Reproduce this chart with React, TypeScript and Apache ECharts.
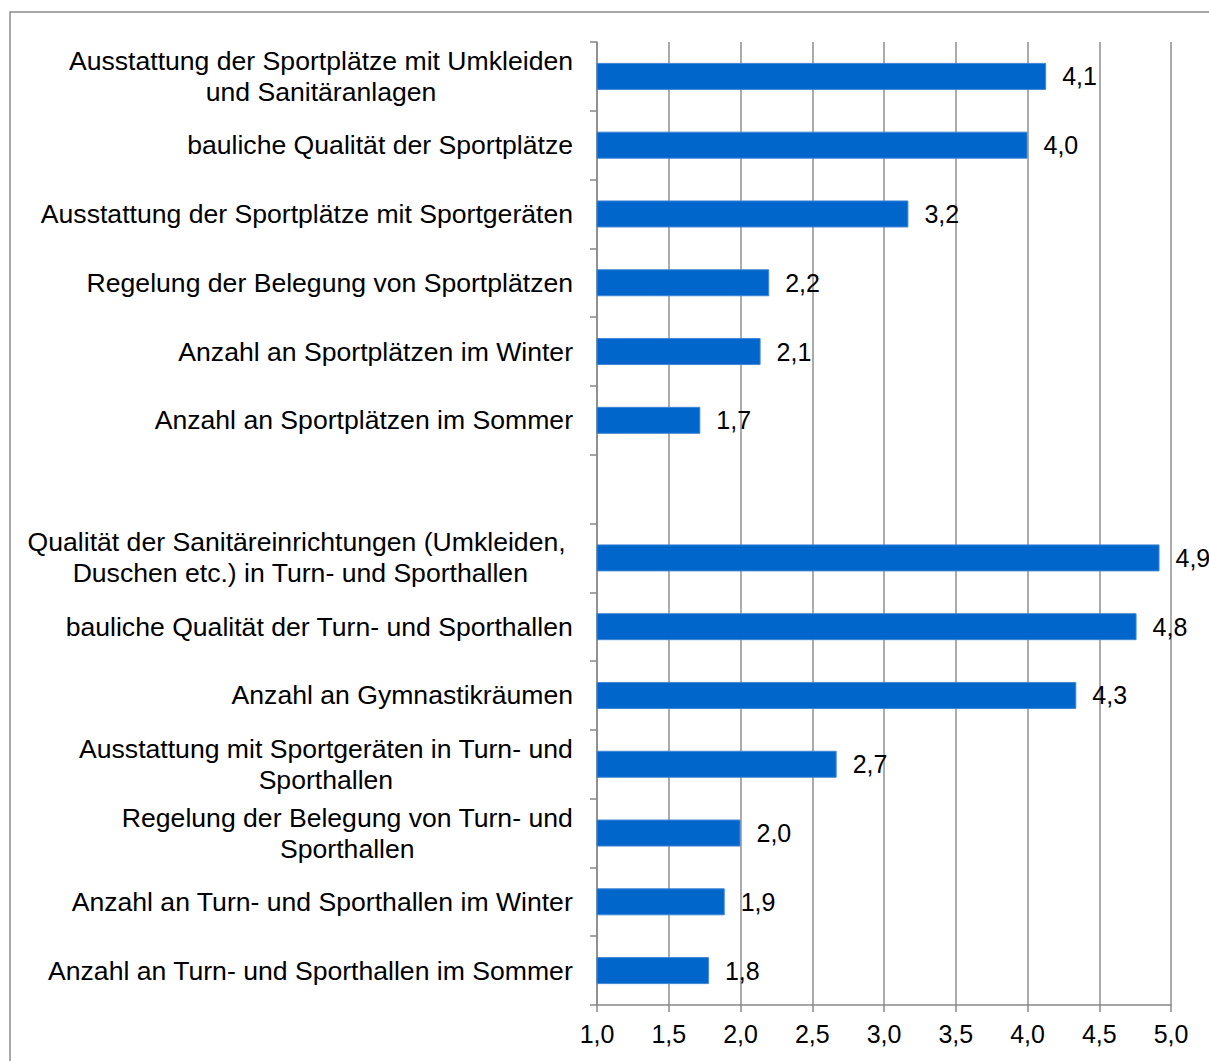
import React, { useEffect, useRef } from "react";
import * as echarts from "echarts";

const categories: string[] = [
  "Ausstattung der Sportplätze mit Umkleiden\nund Sanitäranlagen",
  "bauliche Qualität der Sportplätze",
  "Ausstattung der Sportplätze mit Sportgeräten",
  "Regelung der Belegung von Sportplätzen",
  "Anzahl an Sportplätzen im Winter",
  "Anzahl an Sportplätzen im Sommer",
  "",
  "Qualität der Sanitäreinrichtungen (Umkleiden, \nDuschen etc.) in Turn- und Sporthallen",
  "bauliche Qualität der Turn- und Sporthallen",
  "Anzahl an Gymnastikräumen",
  "Ausstattung mit Sportgeräten in Turn- und\nSporthallen",
  "Regelung der Belegung von Turn- und\nSporthallen",
  "Anzahl an Turn- und Sporthallen im Winter",
  "Anzahl an Turn- und Sporthallen im Sommer",
];

const values: (number | null)[] = [
  4.13, 4.0, 3.17, 2.2, 2.14, 1.72, null, 4.92, 4.76, 4.34, 2.67, 2.0, 1.89, 1.78,
];

const xMin = 1.0;
const xMax = 5.0;
const xStep = 0.5;

const FONT = "'Liberation Sans', Arial, sans-serif";

const fmt = (v: number) => v.toFixed(1).replace(".", ",");

export default function App() {
  const ref = useRef<HTMLDivElement>(null);
  useEffect(() => {
    document.documentElement.style.overflow = "hidden";
    document.body.style.overflow = "hidden";
    if (!ref.current) return;
    const chart = echarts.init(ref.current, undefined, { renderer: "svg" });
    chart.setOption({
      animation: false,
      backgroundColor: "#ffffff",
      textStyle: { fontFamily: FONT },
      graphic: [
        {
          type: "rect",
          shape: { x: 10, y: 12, width: 1400, height: 1300 },
          style: { fill: "none", stroke: "#8a8a8a", lineWidth: 1.5 },
          silent: true,
        },
      ],
      grid: { left: 597, right: 38, top: 42, bottom: 56, containLabel: false },
      xAxis: {
        type: "value",
        min: xMin,
        max: xMax,
        interval: xStep,
        axisLine: { show: true, lineStyle: { color: "#888888", width: 1.5 } },
        axisTick: { show: true, length: 7, lineStyle: { color: "#888888", width: 1.5 } },
        axisLabel: {
          formatter: (v: number) => fmt(v),
          color: "#000000",
          fontSize: 25,
          fontFamily: FONT,
          margin: 16,
        },
        splitLine: { show: true, lineStyle: { color: "#8f8f8f", width: 1.5 } },
      },
      yAxis: {
        type: "category",
        inverse: true,
        data: categories,
        axisLine: { show: true, lineStyle: { color: "#888888", width: 1.5 } },
        axisTick: { show: true, length: 7, lineStyle: { color: "#888888", width: 1.5 } },
        axisLabel: {
          margin: 24,
          color: "#000000",
          fontSize: 26.6,
          fontFamily: FONT,
          interval: 0,
          formatter: (v: string) =>
            v ? v.split("\n").map((l) => `{c|${l}}`).join("\n") : "",
          rich: {
            c: {
              align: "center",
              fontSize: 26.6,
              lineHeight: 31,
              color: "#000000",
              fontFamily: FONT,
            },
          },
        },
        splitLine: { show: false },
      },
      series: [
        {
          type: "bar",
          data: values.map((v) => (v == null ? "-" : v)),
          barWidth: 27,
          itemStyle: { color: "#0066CC", borderColor: "#3f86d4", borderWidth: 1 },
          label: {
            show: true,
            position: "right",
            distance: 16,
            color: "#000000",
            fontSize: 25,
            fontFamily: FONT,
            formatter: (p: any) =>
              typeof p.value === "number" ? fmt(p.value) : "",
          },
        },
      ],
    });
    return () => chart.dispose();
  }, []);
  return (
    <div
      ref={ref}
      style={{ position: "fixed", left: 0, top: 0, width: 1209, height: 1061 }}
    />
  );
}
